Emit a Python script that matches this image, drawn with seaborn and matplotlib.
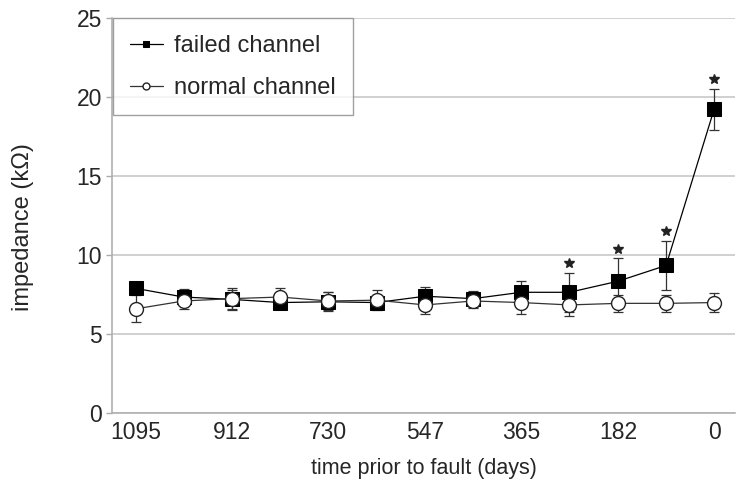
import numpy as np
import pandas as pd
import seaborn as sns
import matplotlib.pyplot as plt

# values
days = [1095, 1004, 912, 821, 730, 639, 547, 456, 365, 274, 182, 91, 0]
failed_mean = [7.9, 7.35, 7.2, 7.0, 7.05, 7.0, 7.4, 7.25, 7.65, 7.65, 8.35, 9.35, 19.25]
failed_err = [0.3, 0.5, 0.6, 0.4, 0.6, 0.4, 0.6, 0.5, 0.7, 1.25, 1.45, 1.55, 1.3]
normal_mean = [6.6, 7.1, 7.25, 7.35, 7.1, 7.15, 6.85, 7.1, 7.0, 6.85, 6.95, 6.95, 7.0]
normal_err = [0.85, 0.5, 0.7, 0.6, 0.6, 0.65, 0.6, 0.45, 0.7, 0.7, 0.55, 0.55, 0.6]
significant = [274, 182, 91, 0]  # points marked with a star
tick_days = [1095, 912, 730, 547, 365, 182, 0]

df = pd.DataFrame({
    'days': days * 2,
    'impedance': failed_mean + normal_mean,
    'err': failed_err + normal_err,
    'channel': ['failed channel'] * len(days) + ['normal channel'] * len(days),
})

sns.set_theme(style='white')
plt.rcParams['font.family'] = ['Liberation Sans', 'DejaVu Sans']
text_col = '#262626'
grid_col = '#c8c8c8'

fig = plt.figure(figsize=(7.45, 4.93), dpi=100)
ax = fig.add_axes([0.150, 0.162, 0.837, 0.801])

ax.yaxis.grid(True, color=grid_col, linewidth=1.2)
ax.set_axisbelow(True)

failed = df[df['channel'] == 'failed channel']
normal = df[df['channel'] == 'normal channel']

ax.errorbar(failed['days'], failed['impedance'], yerr=failed['err'], fmt='none',
            ecolor='#333333', elinewidth=0.9, capsize=3.5, capthick=0.9, zorder=2)
ax.errorbar(normal['days'], normal['impedance'], yerr=normal['err'], fmt='none',
            ecolor='#333333', elinewidth=0.9, capsize=3.5, capthick=0.9, zorder=3)

sns.lineplot(data=failed, x='days', y='impedance', ax=ax, color='black',
             marker='s', markersize=9.5, mfc='black', mec='black', linewidth=0.9,
             label='failed channel', zorder=4)
sns.lineplot(data=normal, x='days', y='impedance', ax=ax, color='#333333',
             marker='o', markersize=10, mfc='white', mec='#222222', mew=1.0,
             linewidth=0.9, label='normal channel', zorder=5)

# significance stars above the failed-channel error bars
star = failed[failed['days'].isin(significant)]
ax.plot(star['days'], star['impedance'] + star['err'] + 0.6, linestyle='none',
        marker='*', markersize=7, color='#222222', zorder=6)

ax.set_xlim(1140, -40)
ax.set_ylim(0, 25)
ax.set_xticks(tick_days)
ax.set_xticklabels([str(t) for t in tick_days])
ax.set_yticks([0, 5, 10, 15, 20, 25])
ax.tick_params(axis='x', length=0, pad=6, labelsize=16.5, labelcolor=text_col)
ax.tick_params(axis='y', length=4, width=1, color='#aaaaaa', direction='out',
               pad=3, labelsize=16.5, labelcolor=text_col, left=True)

ax.set_xlabel('time prior to fault (days)', fontsize=15.5, color=text_col, labelpad=10)
ax.set_ylabel('impedance (kΩ)', fontsize=17, color=text_col)
ax.yaxis.set_label_coords(-0.125, 0.47)

for s in ['top', 'right']:
    ax.spines[s].set_visible(False)
for s in ['left', 'bottom']:
    ax.spines[s].set_color('#b0b0b0')
    ax.spines[s].set_linewidth(1.2)

leg = ax.legend(loc='upper left', bbox_to_anchor=(0.002, 1.0), borderaxespad=0,
                fontsize=17, frameon=True, fancybox=False, edgecolor='#888888',
                handlelength=1.4, borderpad=0.7, labelspacing=0.85,
                handletextpad=0.5)
leg.get_frame().set_linewidth(1.0)
for t in leg.get_texts():
    t.set_color(text_col)
for h in leg.legend_handles:
    h.set_markersize(5)

plt.savefig('out.png', dpi=100)
